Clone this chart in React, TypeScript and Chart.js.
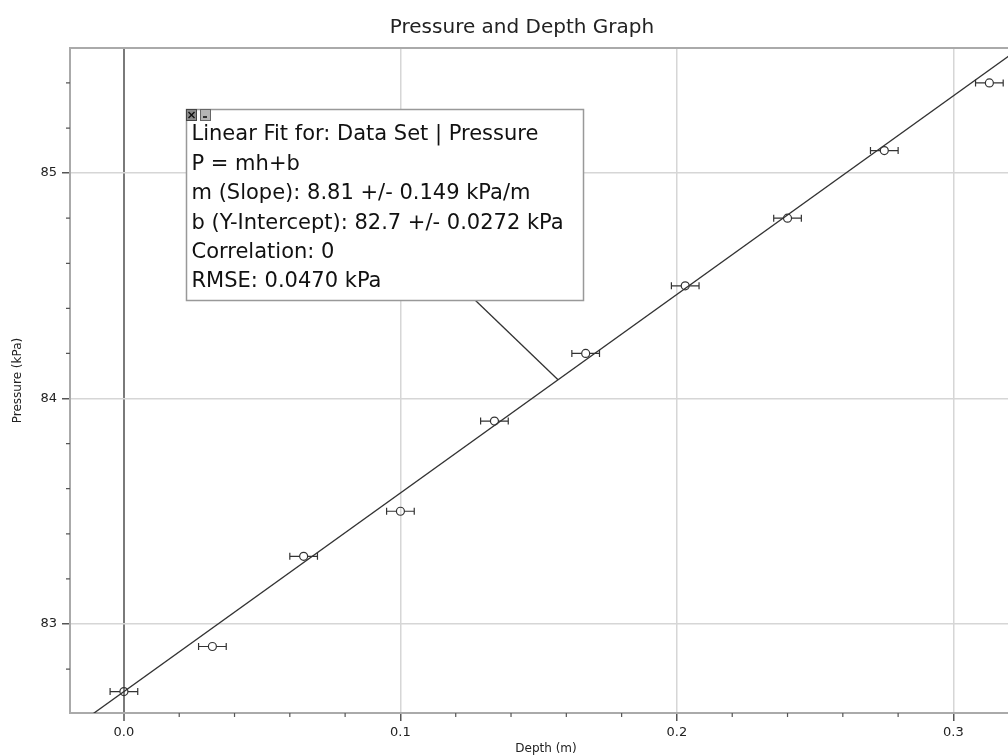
import React, { useEffect, useRef } from "react";
import { Chart, registerables } from "chart.js";

Chart.register(...registerables);

// ---- data ----
const depth = [0.0, 0.032, 0.065, 0.1, 0.134, 0.167, 0.203, 0.24, 0.275, 0.313];
const pressure = [82.7, 82.9, 83.3, 83.5, 83.9, 84.2, 84.5, 84.8, 85.1, 85.4];
const depthErr = [0.005, 0.005, 0.005, 0.005, 0.005, 0.005, 0.005, 0.005, 0.005, 0.005];

const xMajorTicks = [0.0, 0.1, 0.2, 0.3];
const yMajorTicks = [83, 84, 85];
const xRange = [-0.0195, 0.3248];
const yRange = [82.605, 85.555];

const fitSlope = 8.81;
const fitIntercept = 82.7;
const fitText = [
  "Linear Fit for: Data Set | Pressure",
  "P = mh+b",
  "m (Slope): 8.81 +/- 0.149 kPa/m",
  "b (Y-Intercept): 82.7 +/- 0.0272 kPa",
  "Correlation: 0",
  "RMSE: 0.0470 kPa",
];
const boxAnchor = [0.0225, 85.284];
const fitAnchorDepth = 0.157;

const FONT = '"DejaVu Sans", "Lucida Grande", sans-serif';

const isMajor = (v: number, majors: number[]) => majors.some((m) => Math.abs(m - v) < 1e-6);

const decorPlugin = {
  id: "decor",
  beforeDatasetsDraw(chart: any) {
    const ctx = chart.ctx;
    const xs = chart.scales.x;
    const ys = chart.scales.y;
    ctx.save();
    ctx.strokeStyle = "#333";
    ctx.lineWidth = 1.2;
    const rad = 4;
    depth.forEach((d, i) => {
      const px = xs.getPixelForValue(d);
      const py = ys.getPixelForValue(pressure[i]);
      const l = xs.getPixelForValue(d - depthErr[i]);
      const r = xs.getPixelForValue(d + depthErr[i]);
      ctx.beginPath();
      ctx.moveTo(l, py);
      ctx.lineTo(px - rad, py);
      ctx.moveTo(px + rad, py);
      ctx.lineTo(r, py);
      ctx.moveTo(l, py - 3.5);
      ctx.lineTo(l, py + 3.5);
      ctx.moveTo(r, py - 3.5);
      ctx.lineTo(r, py + 3.5);
      ctx.stroke();
    });
    ctx.restore();
  },
  afterDraw(chart: any) {
    const ctx = chart.ctx;
    const xs = chart.scales.x;
    const ys = chart.scales.y;
    const area = chart.chartArea;
    ctx.save();
    // top border
    ctx.strokeStyle = "#aaa";
    ctx.lineWidth = 2;
    ctx.beginPath();
    ctx.moveTo(area.left, area.top);
    ctx.lineTo(area.right, area.top);
    ctx.stroke();
    // minor ticks
    ctx.strokeStyle = "#555";
    ctx.lineWidth = 1.2;
    ctx.beginPath();
    xs.ticks.forEach((t: any) => {
      if (!isMajor(t.value, xMajorTicks)) {
        const px = xs.getPixelForValue(t.value);
        ctx.moveTo(px, area.bottom);
        ctx.lineTo(px, area.bottom + 4);
      }
    });
    ys.ticks.forEach((t: any) => {
      if (!isMajor(t.value, yMajorTicks)) {
        const py = ys.getPixelForValue(t.value);
        ctx.moveTo(area.left - 4, py);
        ctx.lineTo(area.left, py);
      }
    });
    ctx.stroke();

    // annotation box
    const bx = Math.round(xs.getPixelForValue(boxAnchor[0]));
    const by = Math.round(ys.getPixelForValue(boxAnchor[1]));
    const bw = 397;
    const bh = 191;
    // connector
    const fx = xs.getPixelForValue(fitAnchorDepth);
    const fy = ys.getPixelForValue(fitSlope * fitAnchorDepth + fitIntercept);
    ctx.strokeStyle = "#333";
    ctx.lineWidth = 1.3;
    ctx.beginPath();
    ctx.moveTo(bx + 289, by + bh);
    ctx.lineTo(fx, fy);
    ctx.stroke();

    ctx.fillStyle = "#fff";
    ctx.fillRect(bx, by, bw, bh);
    ctx.strokeStyle = "#999";
    ctx.lineWidth = 1.5;
    ctx.strokeRect(bx + 0.5, by + 0.5, bw, bh);

    // icons
    ctx.fillStyle = "#8a8a8a";
    ctx.fillRect(bx, by, 10, 11);
    ctx.strokeStyle = "#444";
    ctx.lineWidth = 1;
    ctx.strokeRect(bx + 0.5, by + 0.5, 10, 11);
    ctx.beginPath();
    ctx.moveTo(bx + 2.5, by + 3);
    ctx.lineTo(bx + 8.5, by + 9);
    ctx.moveTo(bx + 8.5, by + 3);
    ctx.lineTo(bx + 2.5, by + 9);
    ctx.strokeStyle = "#111";
    ctx.lineWidth = 1.4;
    ctx.stroke();
    ctx.fillStyle = "#b5b5b5";
    ctx.fillRect(bx + 14, by, 10, 11);
    ctx.strokeStyle = "#666";
    ctx.lineWidth = 1;
    ctx.strokeRect(bx + 14.5, by + 0.5, 10, 11);
    ctx.fillStyle = "#333";
    ctx.fillRect(bx + 17, by + 7, 4, 2);

    // text
    ctx.fillStyle = "#111";
    ctx.font = `21px ${FONT}`;
    ctx.textBaseline = "middle";
    ctx.textAlign = "left";
    fitText.forEach((line, i) => {
      ctx.fillText(line, bx + 5.5, by + 26 + i * 29.4);
    });
    ctx.restore();
  },
};

export default function App() {
  const ref = useRef<HTMLCanvasElement | null>(null);

  useEffect(() => {
    document.body.style.overflow = "hidden";
    const canvas = ref.current;
    if (!canvas) return;
    const fitData = xRange.map((x) => ({ x, y: fitSlope * x + fitIntercept }));
    const chart = new Chart(canvas, {
      type: "scatter",
      data: {
        datasets: [
          {
            label: "Pressure",
            data: depth.map((d, i) => ({ x: d, y: pressure[i] })),
            pointStyle: "circle",
            pointRadius: 4,
            pointHoverRadius: 4,
            borderColor: "#333",
            backgroundColor: "rgba(0,0,0,0)",
            borderWidth: 1.2,
          },
          {
            label: "Linear Fit",
            data: fitData,
            showLine: true,
            pointRadius: 0,
            borderColor: "#333",
            borderWidth: 1.3,
            backgroundColor: "rgba(0,0,0,0)",
          } as any,
        ],
      },
      options: {
        responsive: false,
        animation: false,
        devicePixelRatio: 1,
        layout: { padding: { left: 22, right: 8, top: 0, bottom: 0 } },
        plugins: {
          legend: { display: false },
          tooltip: { enabled: false },
          title: {
            display: true,
            text: "Pressure and Depth Graph",
            color: "#222",
            font: { family: FONT, size: 20, weight: "normal" as any, lineHeight: 1.2 },
            padding: { top: 15.5, bottom: 8.5 },
          },
        },
        scales: {
          x: {
            type: "linear",
            min: xRange[0],
            max: xRange[1],
            afterBuildTicks: (scale: any) => {
              const ticks = [];
              for (let k = Math.ceil(xRange[0] * 50); k <= Math.floor(xRange[1] * 50); k++) {
                ticks.push({ value: k / 50 });
              }
              scale.ticks = ticks;
            },
            afterFit: (scale: any) => {
              scale.height = 43;
            },
            ticks: {
              autoSkip: false,
              maxRotation: 0,
              padding: 4,
              color: "#222",
              font: { family: FONT, size: 13 },
              callback: (v: any) => (isMajor(Number(v), xMajorTicks) ? Number(v).toFixed(1) : ""),
            },
            grid: {
              color: (c: any) => {
                const v = c.tick ? c.tick.value : NaN;
                if (Math.abs(v) < 1e-9) return "#7a7a7a";
                return isMajor(v, xMajorTicks) ? "#d6d6d6" : "rgba(0,0,0,0)";
              },
              lineWidth: (c: any) => (c.tick && Math.abs(c.tick.value) < 1e-9 ? 2 : 1.5),
              tickColor: (c: any) => (c.tick && isMajor(c.tick.value, xMajorTicks) ? "#555" : "rgba(0,0,0,0)"),
              tickLength: 8,
              tickWidth: 1.5,
            },
            border: { color: "#aaa", width: 2 },
            title: {
              display: true,
              text: "Depth (m)",
              color: "#222",
              font: { family: FONT, size: 12, lineHeight: 1.2 },
              padding: { top: 0, bottom: 0 },
            },
          },
          y: {
            type: "linear",
            min: yRange[0],
            max: yRange[1],
            afterBuildTicks: (scale: any) => {
              const ticks = [];
              for (let k = Math.ceil(yRange[0] * 5); k <= Math.floor(yRange[1] * 5); k++) {
                ticks.push({ value: k / 5 });
              }
              scale.ticks = ticks;
            },
            afterFit: (scale: any) => {
              scale.width = 48;
            },
            ticks: {
              autoSkip: false,
              padding: 5,
              color: "#222",
              font: { family: FONT, size: 13 },
              callback: (v: any) => (isMajor(Number(v), yMajorTicks) ? String(Math.round(Number(v))) : ""),
            },
            grid: {
              color: (c: any) => (c.tick && isMajor(c.tick.value, yMajorTicks) ? "#d6d6d6" : "rgba(0,0,0,0)"),
              lineWidth: 1.5,
              tickColor: (c: any) => (c.tick && isMajor(c.tick.value, yMajorTicks) ? "#555" : "rgba(0,0,0,0)"),
              tickLength: 8,
              tickWidth: 1.5,
            },
            border: { color: "#aaa", width: 2 },
            title: {
              display: true,
              text: "Pressure (kPa)",
              color: "#222",
              font: { family: FONT, size: 12, lineHeight: 1.2 },
              padding: { top: -11.2, bottom: 0 },
            },
          },
        },
      },
      plugins: [decorPlugin],
    });
    return () => chart.destroy();
  }, []);

  return (
    <div style={{ position: "fixed", left: 0, top: 0, width: 1030, height: 756, background: "#fff" }}>
      <canvas ref={ref} width={1030} height={756} />
    </div>
  );
}
